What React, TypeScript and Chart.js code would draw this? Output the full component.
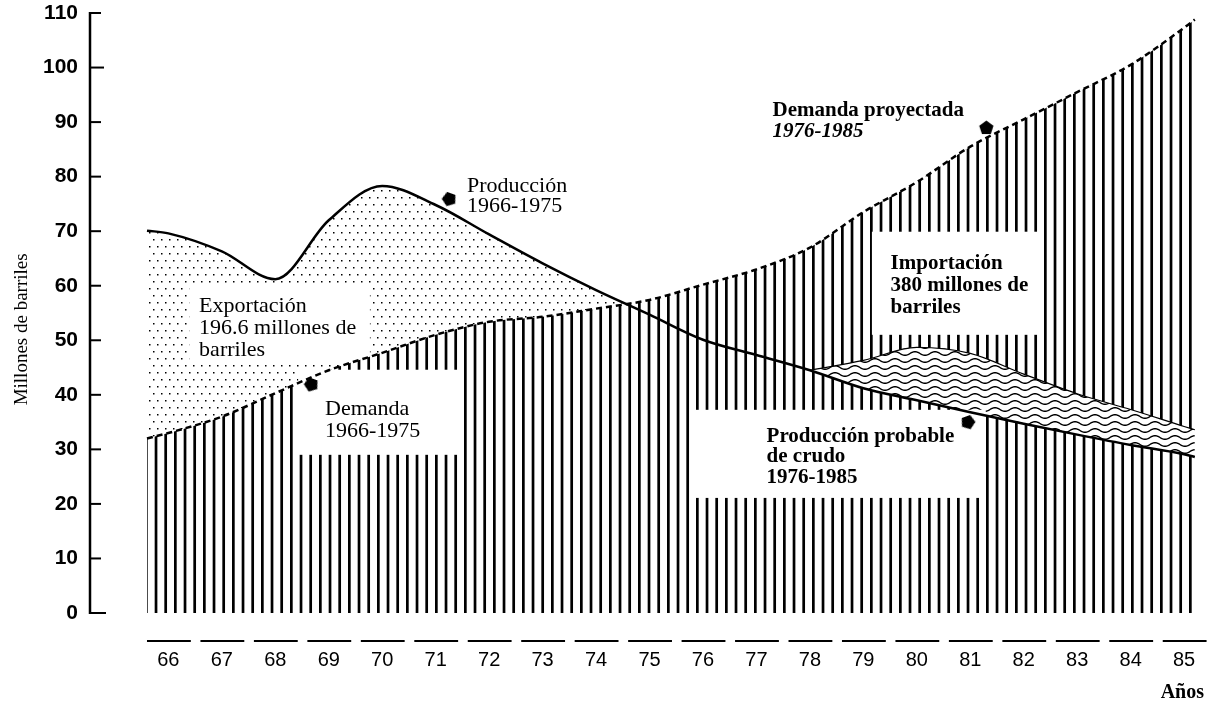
import React, { useEffect, useRef } from 'react';
import { Chart, registerables } from 'chart.js';

Chart.register(...registerables);

// ---------- data ----------
const yearTicks = [66, 67, 68, 69, 70, 71, 72, 73, 74, 75, 76, 77, 78, 79, 80, 81, 82, 83, 84, 85];
const valueTicks = [0, 10, 20, 30, 40, 50, 60, 70, 80, 90, 100, 110];

// demand 1966-1975 and projected demand 1976-1985 (edges of the drawing included)
const demandYears = [65.6, 66, 67, 68, 69, 70, 71, 72, 73, 74, 75, 76, 77, 78, 79, 80, 81, 82, 83, 84, 85, 85.2];
const demand = [32, 33, 36, 40.3, 44.5, 47.7, 51, 53.4, 54.3, 55.8, 57.4, 60.2, 63, 67, 73.5, 79, 85.5, 90.5, 95.5, 100.5, 107.3, 108.8];

// production 1966-1975
const productionYears = [65.6, 66, 67, 68, 69, 70, 71, 72, 73, 74, 75];
const production = [70.1, 69.6, 66.3, 61.2, 72, 78.3, 74.8, 69.4, 64.1, 59.2, 54.7];

// probable crude production 1976-1985
const probableYears = [76, 77, 78, 79, 80, 81, 82, 83, 84, 85, 85.2];
const probableProduction = [50.1, 47.3, 44.5, 41.2, 39, 36.8, 34.7, 32.7, 30.8, 29.1, 28.6];

// upper edge of the wavy band
const bandYears = [78, 79, 80, 81, 82, 83, 84, 85, 85.2];
const bandUpper = [44.5, 46.3, 48.7, 47.6, 43.8, 40.2, 37.3, 34.2, 33.6];

// arrow markers next to the labels
const markerYears = [71.25, 68.67, 81.3, 80.96];
const markerValues = [75.8, 41.8, 89, 34.9];

// ---------- styling / layout ----------
const SERIF = "'Liberation Serif', 'Times New Roman', serif";
const SANS = "'Liberation Sans', Arial, sans-serif";
const NARROW = "'Liberation Sans Narrow', 'Liberation Sans', Arial, sans-serif";

type Box = { x1: number; x2: number; y1: number; y2: number };
const boxUnder: Box[] = [{ x1: 66.39, x2: 69.77, y1: 45.5, y2: 60.2 }];
const boxOver: Box[] = [
  { x1: 68.43, x2: 71.51, y1: 29, y2: 44.6 },
  { x1: 79.16, x2: 82.31, y1: 51, y2: 69.9 },
  { x1: 75.8, x2: 81.29, y1: 21.1, y2: 37.25 },
];

type Note = { x: number; y: number; lh: number; lines: { t: string; font: string }[] };
const REG = `22px ${SERIF}`;
const BOLD = `bold 21px ${SERIF}`;
const notes: Note[] = [
  { x: 71.585, y: 77.25, lh: 20, lines: [{ t: 'Producción', font: REG }, { t: '1966-1975', font: REG }] },
  {
    x: 66.575, y: 55.23, lh: 22,
    lines: [{ t: 'Exportación', font: REG }, { t: '196.6 millones de', font: REG }, { t: 'barriles', font: REG }],
  },
  { x: 68.93, y: 36.33, lh: 22, lines: [{ t: 'Demanda', font: REG }, { t: '1966-1975', font: REG }] },
  {
    x: 77.3, y: 91.2, lh: 21,
    lines: [{ t: 'Demanda proyectada', font: BOLD }, { t: '1976-1985', font: `italic bold 21px ${SERIF}` }],
  },
  {
    x: 79.51, y: 63, lh: 22,
    lines: [{ t: 'Importación', font: BOLD }, { t: '380 millones de', font: BOLD }, { t: 'barriles', font: BOLD }],
  },
  {
    x: 77.19, y: 31.38, lh: 20.5,
    lines: [{ t: 'Producción probable', font: BOLD }, { t: 'de crudo', font: BOLD }, { t: '1976-1985', font: BOLD }],
  },
];

const pts = (xs: number[], ys: number[]) => xs.map((x, i) => ({ x, y: ys[i] }));

function makeStripes(ctx: CanvasRenderingContext2D) {
  const c = document.createElement('canvas');
  c.width = 29;
  c.height = 4;
  const g = c.getContext('2d')!;
  g.fillStyle = '#000';
  [0, 9.67, 19.33].forEach((x) => g.fillRect(x, 0, 2.7, 4));
  return ctx.createPattern(c, 'repeat')!;
}

function makeDots(ctx: CanvasRenderingContext2D) {
  const c = document.createElement('canvas');
  c.width = 16;
  c.height = 14;
  const g = c.getContext('2d')!;
  g.fillStyle = '#000';
  [[1, 1], [9, 1], [5, 8], [13, 8]].forEach(([x, y]) => g.fillRect(x, y, 1.5, 1.5));
  return ctx.createPattern(c, 'repeat')!;
}

function makeWaves(ctx: CanvasRenderingContext2D) {
  const c = document.createElement('canvas');
  c.width = 20;
  c.height = 7;
  const g = c.getContext('2d')!;
  g.fillStyle = '#fff';
  g.fillRect(0, 0, 20, 7);
  g.strokeStyle = '#000';
  g.lineWidth = 1.4;
  g.beginPath();
  for (let x = -1; x <= 21; x += 0.5) {
    const y = 3.5 + 1.8 * Math.sin((2 * Math.PI * x) / 20);
    if (x === -1) g.moveTo(x, y);
    else g.lineTo(x, y);
  }
  g.stroke();
  return ctx.createPattern(c, 'repeat')!;
}

function makePentagon() {
  const c = document.createElement('canvas');
  c.width = 17;
  c.height = 17;
  const g = c.getContext('2d')!;
  g.fillStyle = '#000';
  g.beginPath();
  for (let i = 0; i < 5; i++) {
    const a = -Math.PI / 2 + (i * 2 * Math.PI) / 5;
    const px = 8.5 + 7.5 * Math.cos(a);
    const py = 9 + 7.5 * Math.sin(a);
    if (i === 0) g.moveTo(px, py);
    else g.lineTo(px, py);
  }
  g.closePath();
  g.fill();
  return c;
}

export default function App() {
  const ref = useRef<HTMLCanvasElement>(null);

  useEffect(() => {
    const canvas = ref.current!;
    const ctx = canvas.getContext('2d')!;
    const stripes = makeStripes(ctx);
    const dots = makeDots(ctx);
    const waves = makeWaves(ctx);
    const pent = makePentagon();

    const prodAllX = [...productionYears, ...probableYears];
    const prodAllY = [...production, ...probableProduction];
    const lowerIdx = probableYears.map((y, i) => (y >= 78 ? i : -1)).filter((i) => i >= 0);
    const bandLower = pts(lowerIdx.map((i) => probableYears[i]), lowerIdx.map((i) => probableProduction[i]));

    const drawBoxes = (chart: any, boxes: Box[]) => {
      const { x, y } = chart.scales;
      const c = chart.ctx;
      c.save();
      c.fillStyle = '#fff';
      boxes.forEach((b) => {
        const l = x.getPixelForValue(b.x1);
        const r = x.getPixelForValue(b.x2);
        const t = y.getPixelForValue(b.y2);
        const bt = y.getPixelForValue(b.y1);
        c.fillRect(l, t, r - l, bt - t);
      });
      c.restore();
    };

    const decor = {
      id: 'decor',
      afterDatasetDraw(chart: any, args: any) {
        if (args.index === 6) drawBoxes(chart, boxUnder);
        if (args.index === 3) drawBoxes(chart, boxOver);
      },
      afterDatasetsDraw(chart: any) {
        const { x, y } = chart.scales;
        const c: CanvasRenderingContext2D = chart.ctx;
        const area = chart.chartArea;
        c.save();
        c.fillStyle = '#000';
        c.strokeStyle = '#000';
        c.textAlign = 'left';
        c.textBaseline = 'alphabetic';
        notes.forEach((n) => {
          const px = x.getPixelForValue(n.x);
          const py = y.getPixelForValue(n.y);
          n.lines.forEach((ln, i) => {
            c.font = ln.font;
            c.fillText(ln.t, px, py + i * n.lh);
          });
        });

        // y axis line with inward ticks
        const left = area.left;
        c.lineWidth = 2.5;
        c.beginPath();
        c.moveTo(left, y.getPixelForValue(0) + 1);
        c.lineTo(left, y.getPixelForValue(110) - 1);
        c.stroke();
        c.lineWidth = 2;
        valueTicks.forEach((v) => {
          const py = y.getPixelForValue(v);
          const len = v === 0 ? 16 : v === 100 ? 14 : 11;
          c.beginPath();
          c.moveTo(left, py);
          c.lineTo(left + len, py);
          c.stroke();
        });

        // dashes above the year labels
        c.lineWidth = 2;
        const dy = area.bottom + 28;
        yearTicks.forEach((yr) => {
          c.beginPath();
          c.moveTo(x.getPixelForValue(yr - 0.4), dy);
          c.lineTo(x.getPixelForValue(yr + 0.42), dy);
          c.stroke();
        });

        // axis titles
        c.font = `19px ${SERIF}`;
        c.save();
        c.translate(22, y.getPixelForValue(52));
        c.rotate(-Math.PI / 2);
        c.textAlign = 'center';
        c.textBaseline = 'middle';
        c.fillText('Millones de barriles', 0, 0);
        c.restore();

        c.font = `bold 20px ${SERIF}`;
        c.textAlign = 'right';
        c.fillText('Años', chart.width - 5, chart.height - 5);
        c.restore();
      },
    };

    const smooth = { cubicInterpolationMode: 'monotone' as const, pointRadius: 0 };
    const clear = 'rgba(0,0,0,0)';
    const noPad = (s: any) => {
      s.paddingLeft = 0;
      s.paddingRight = 0;
      s.paddingTop = 0;
      s.paddingBottom = 0;
    };

    const chart = new Chart(canvas, {
      type: 'line',
      data: {
        datasets: [
          {
            data: pts(markerYears, markerValues),
            showLine: false,
            pointStyle: pent as any,
            pointRadius: 8,
            pointRotation: [200, 200, 0, 160],
            borderColor: clear,
            backgroundColor: '#000',
          } as any,
          { data: pts(prodAllX, prodAllY), borderColor: '#000', borderWidth: 2.5, fill: false, ...smooth },
          { data: pts(demandYears, demand), borderColor: '#000', borderWidth: 2.5, borderDash: [6, 4], fill: false, ...smooth },
          {
            data: pts(bandYears, bandUpper),
            borderColor: '#000',
            borderWidth: 1.2,
            fill: { target: 4, above: waves, below: waves },
            ...smooth,
          } as any,
          { data: bandLower, borderColor: clear, borderWidth: 1, fill: false, ...smooth },
          { data: pts(demandYears, demand), borderColor: clear, borderWidth: 1, fill: 'origin', backgroundColor: stripes, ...smooth },
          {
            data: pts(prodAllX, prodAllY),
            borderColor: clear,
            borderWidth: 1,
            fill: { target: 5, above: dots, below: clear },
            ...smooth,
          } as any,
        ],
      },
      options: {
        animation: false,
        responsive: false,
        devicePixelRatio: 1,
        layout: { padding: { top: 13, right: 0, bottom: 0, left: 0 } },
        plugins: { legend: { display: false }, tooltip: { enabled: false }, title: { display: false } },
        events: [],
        scales: {
          x: {
            type: 'linear',
            min: 64.534,
            max: 85.297,
            grid: { display: false, drawTicks: false },
            border: { display: false },
            afterBuildTicks: (s: any) => {
              s.ticks = yearTicks.map((v) => ({ value: v }));
            },
            afterFit: (s: any) => {
              s.height = 90;
              noPad(s);
            },
            ticks: {
              autoSkip: false,
              maxRotation: 0,
              padding: 35,
              color: '#000',
              font: { family: SANS, size: 20 },
              callback: (v: any) => String(v),
            },
          },
          y: {
            type: 'linear',
            min: 0,
            max: 110,
            grid: { display: false, drawTicks: false },
            border: { display: false },
            afterBuildTicks: (s: any) => {
              s.ticks = valueTicks.map((v) => ({ value: v }));
            },
            afterFit: (s: any) => {
              s.width = 90;
              noPad(s);
            },
            ticks: { padding: 12, color: '#000', font: { family: NARROW, size: 21, weight: 'bold' } },
          },
        },
      } as any,
      plugins: [decor],
    });

    return () => chart.destroy();
  }, []);

  return (
    <div style={{ position: 'fixed', left: 0, top: 0, width: 1209, height: 703, background: '#fff' }}>
      <canvas ref={ref} width={1209} height={703} style={{ display: 'block', width: 1209, height: 703 }} />
    </div>
  );
}
